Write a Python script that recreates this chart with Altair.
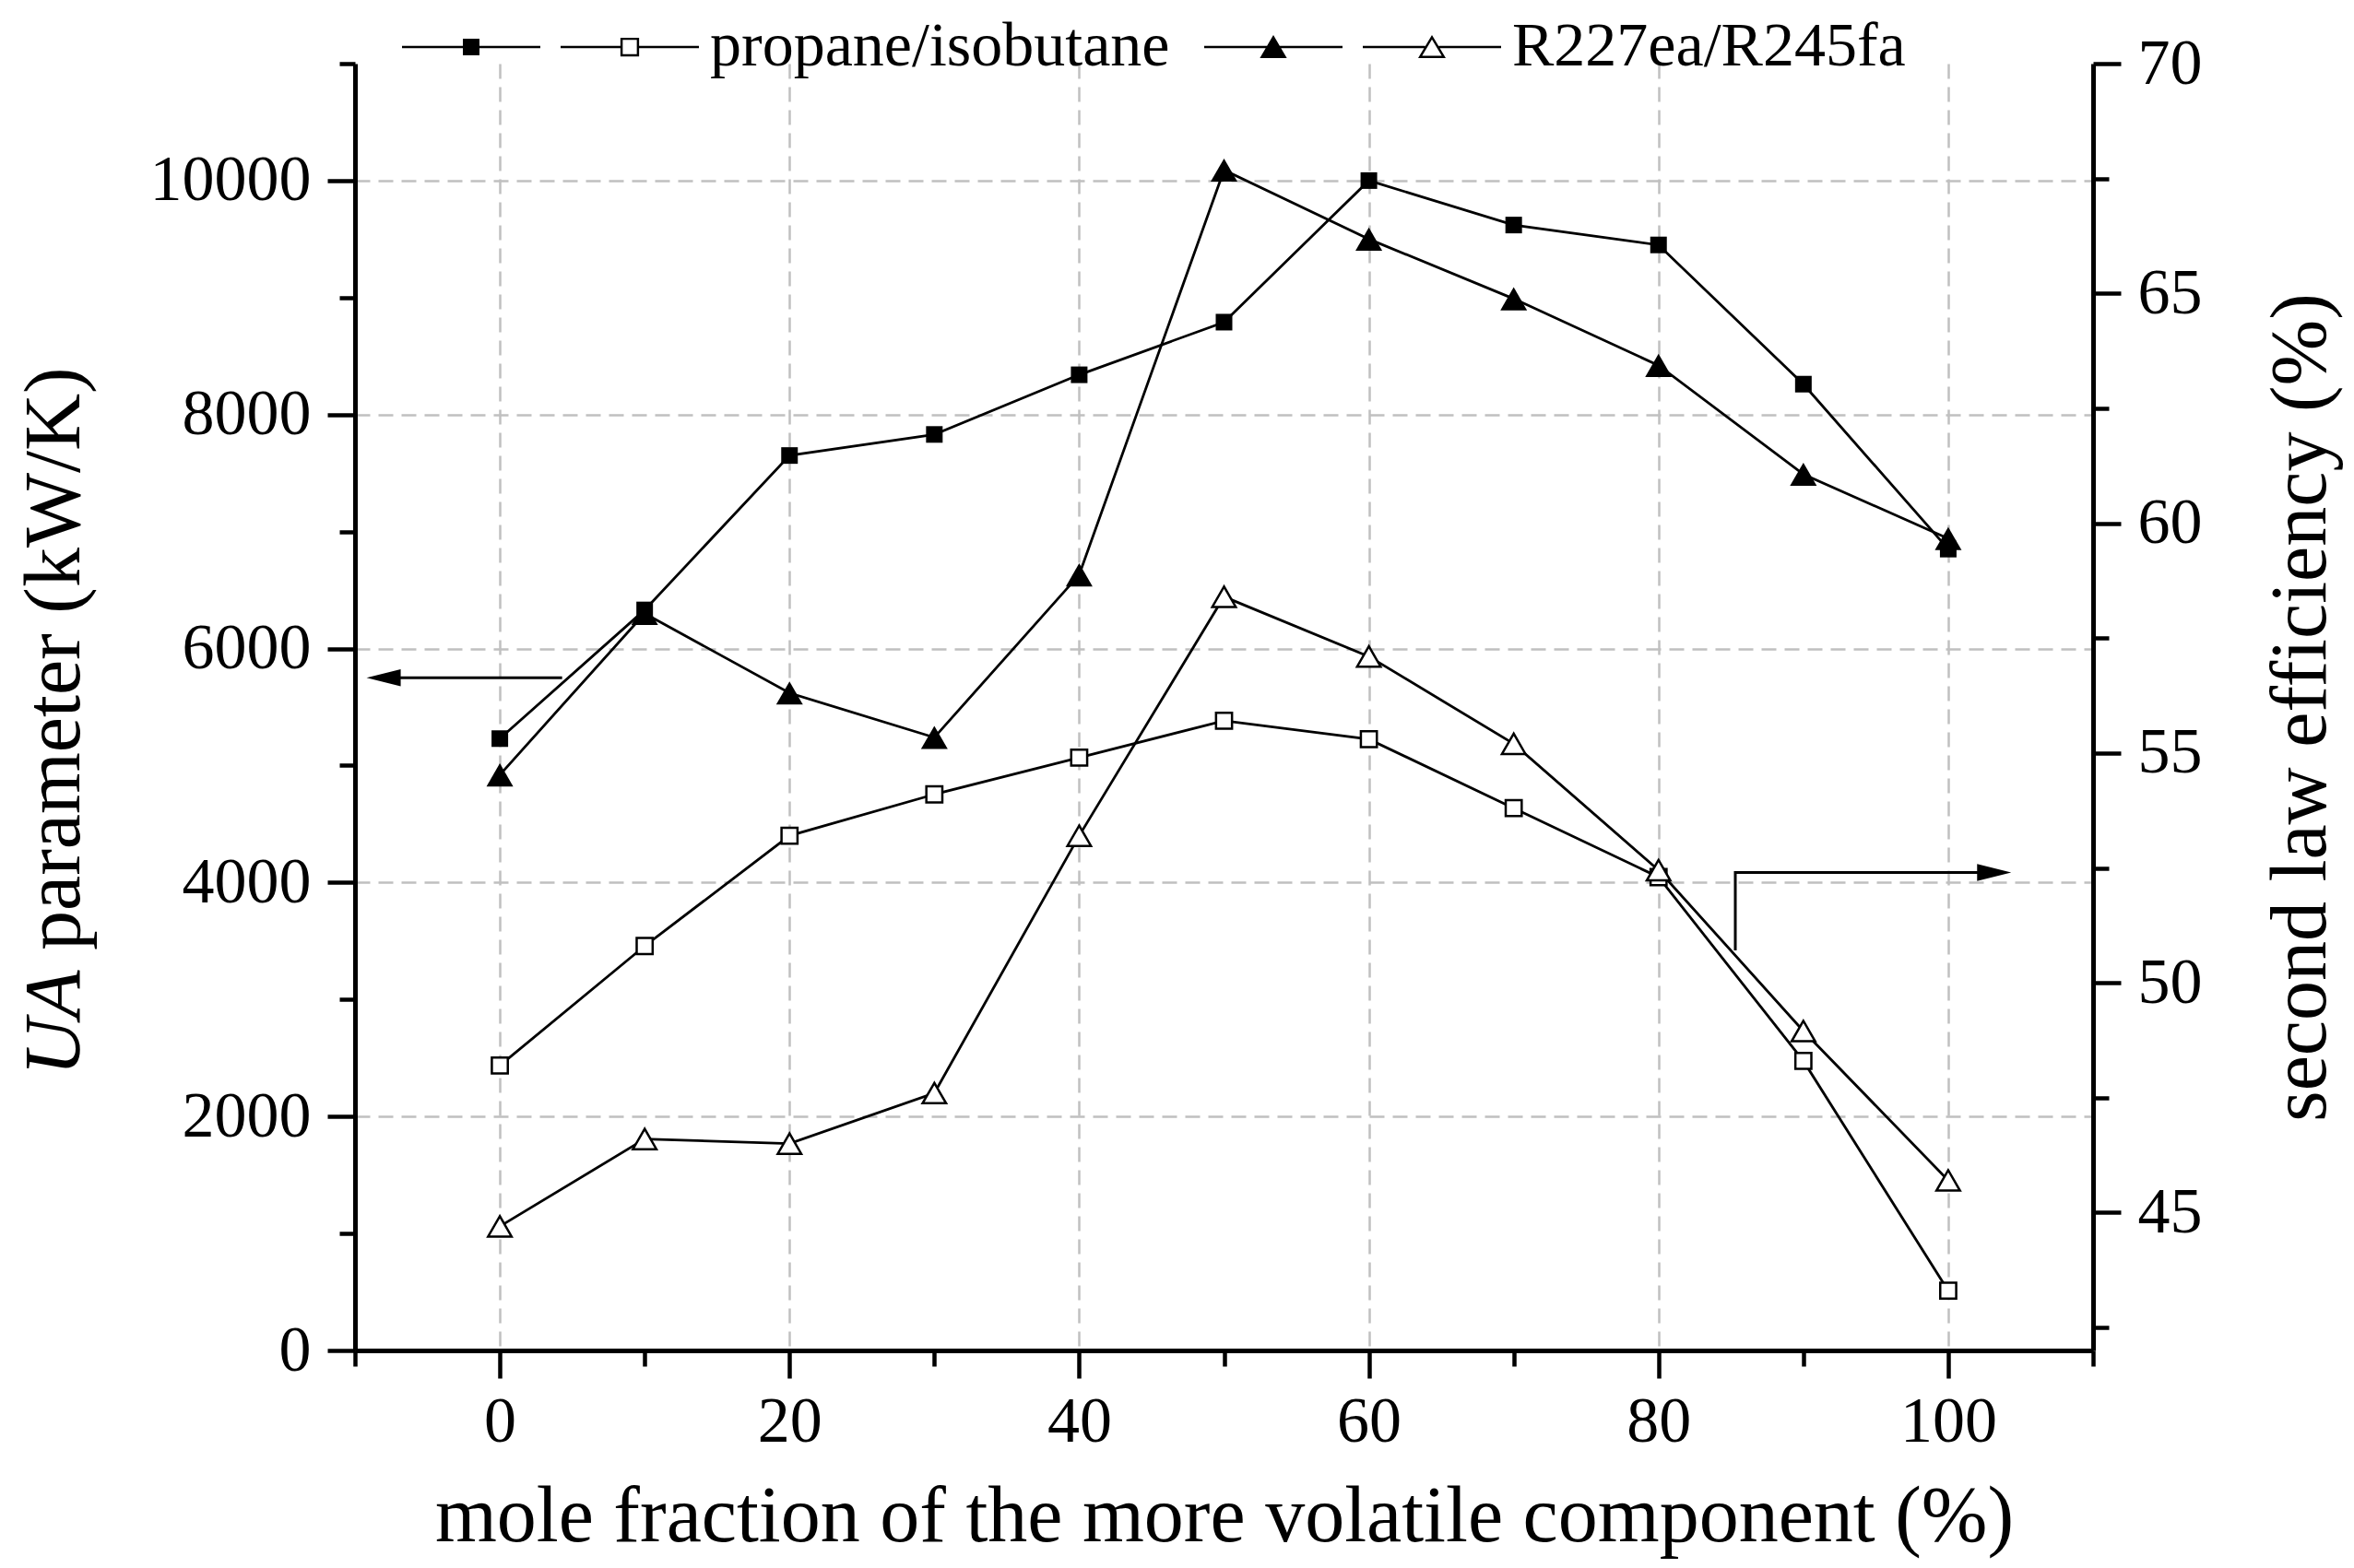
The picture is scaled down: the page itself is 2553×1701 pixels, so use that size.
import altair as alt
import pandas as pd

# ---------------- data ----------------
x_vals = [0, 10, 20, 30, 40, 50, 60, 70, 80, 90, 100]
propane_ua = [5230, 6330, 7650, 7830, 8340, 8790, 10000, 9620, 9450, 8260, 6850]
r227_ua = [4920, 6300, 5620, 5240, 6630, 10090, 9500, 8990, 8420, 7490, 6940]
propane_eff = [48.2, 50.8, 53.2, 54.1, 54.9, 55.7, 55.3, 53.8, 52.3, 48.3, 43.3]
r227_eff = [44.7, 46.6, 46.5, 47.6, 53.2, 58.4, 57.1, 55.2, 52.45, 48.95, 45.7]

series_names = ["propane/isobutane", "R227ea/R245fa"]
x_title = "mole fraction of the more volatile component (%)"
ua_title_parts = ["UA", "parameter (kW/K)"]
eff_title = "second law efficiency (%)"

x_major = [0, 20, 40, 60, 80, 100]
x_minor = [-10, 10, 30, 50, 70, 90, 110]
ua_major = [0, 2000, 4000, 6000, 8000, 10000]
ua_minor = [1000, 3000, 5000, 7000, 9000, 11000]
eff_major = [45, 50, 55, 60, 65, 70]
eff_minor = [42.5, 47.5, 52.5, 57.5, 62.5, 67.5]

# annotation arrows (in data units of x / UA axis)
left_arrow_x = [4.3, -7.0]
left_arrow_y = [5750, 5750]
right_arrow_x = [85.3, 85.3, 102.5]
right_arrow_y = [3420, 4086, 4086]
arrow_head_x = [-9.2, 104.35]
arrow_head_y = [5750, 4086]
arrow_head_dir = ["left", "right"]

legend_keys = ["propane/isobutane UA", "propane/isobutane", "R227ea/R245fa UA", "R227ea/R245fa"]

# ---------------- tables ----------------
rows = []
for name, ua, eff in [(series_names[0], propane_ua, propane_eff), (series_names[1], r227_ua, r227_eff)]:
    for xv, a, e in zip(x_vals, ua, eff):
        rows.append({"x": xv, "value": a, "series": name, "kind": "UA"})
        rows.append({"x": xv, "value": e, "series": name, "kind": "eff"})
df = pd.DataFrame(rows)

arrows = pd.DataFrame(
    [{"ax": a, "ay": b, "grp": "L", "ord": i} for i, (a, b) in enumerate(zip(left_arrow_x, left_arrow_y))]
    + [{"ax": a, "ay": b, "grp": "R", "ord": i} for i, (a, b) in enumerate(zip(right_arrow_x, right_arrow_y))]
)
heads = pd.DataFrame({"ax": arrow_head_x, "ay": arrow_head_y, "dir": arrow_head_dir})
legend_df = pd.DataFrame({"key": legend_keys})
title_df = pd.DataFrame({"t": ua_title_parts})

FONT = "Liberation Serif"
W, H = 1885, 1396

xs = alt.Scale(domain=[-10, 110], nice=False, zero=False)
ysl = alt.Scale(domain=[0, 11000], nice=False, zero=False)
ysr = alt.Scale(domain=[42, 70], nice=False, zero=False)

tick_common = dict(tickColor="black", tickWidth=4.5, labelFont=FONT, labelFontSize=70,
                   labelColor="black", labelFlush=False, labelOverlap=False)

ax_x_major = alt.Axis(values=x_major, orient="bottom", tickSize=30, domain=True, domainWidth=5,
                      domainColor="black", grid=True, gridColor="#c0c0c0", gridDash=[16, 9],
                      gridWidth=2.5, labelPadding=13, format="d",
                      title=x_title, titleFont=FONT, titleFontSize=86, titleFontWeight="normal",
                      titleColor="black", titleX=W / 2, titleY=206, titleAlign="center",
                      titleBaseline="alphabetic", **tick_common)
ax_x_minor = alt.Axis(values=x_minor, orient="bottom", tickSize=17, domain=False, grid=False,
                      labels=False, title=None, tickColor="black", tickWidth=4.5)
ax_l_major = alt.Axis(values=ua_major, orient="left", tickSize=30, domain=True, domainWidth=5,
                      domainColor="black", grid=True, gridColor="#c0c0c0", gridDash=[16, 9],
                      gridWidth=2.5, labelPadding=18, format="d", title=None, **tick_common)
ax_l_minor = alt.Axis(values=ua_minor, orient="left", tickSize=17, domain=False, grid=False,
                      labels=False, title=None, tickColor="black", tickWidth=4.5)
ax_r_major = alt.Axis(values=eff_major, orient="right", tickSize=30, domain=True, domainWidth=5,
                      domainColor="black", grid=False, labelPadding=18, format="d",
                      title=eff_title, titleFont=FONT, titleFontSize=86, titleFontWeight="normal",
                      titleColor="black", titleAngle=270, titleX=251, titleY=H / 2,
                      titleAlign="center", titleBaseline="alphabetic", **tick_common)
ax_r_minor = alt.Axis(values=eff_minor, orient="right", tickSize=17, domain=False, grid=False,
                      labels=False, title=None, tickColor="black", tickWidth=4.5)

ua = alt.Chart(df).transform_filter(alt.datum.kind == "UA")
eff = alt.Chart(df).transform_filter(alt.datum.kind == "eff")

ua_lines = ua.mark_line(color="black", strokeWidth=2.8).encode(
    x=alt.X("x:Q", scale=xs, axis=ax_x_major),
    y=alt.Y("value:Q", scale=ysl, axis=ax_l_major),
    detail="series:N",
)
ua_sq = ua.transform_filter(alt.datum.series == series_names[0]).mark_point(
    shape="square", filled=True, color="black", size=324, opacity=1
).encode(
    x=alt.X("x:Q", scale=xs, axis=ax_x_minor),
    y=alt.Y("value:Q", scale=ysl, axis=ax_l_minor),
)
ua_tri = ua.transform_filter(alt.datum.series == series_names[1]).mark_point(
    shape="triangle-up", filled=True, color="black", size=841, opacity=1
).encode(
    x=alt.X("x:Q", scale=xs, axis=None),
    y=alt.Y("value:Q", scale=ysl, axis=None),
)
arrow_lines = alt.Chart(arrows).mark_line(color="black", strokeWidth=3).encode(
    x=alt.X("ax:Q", scale=xs, axis=None),
    y=alt.Y("ay:Q", scale=ysl, axis=None),
    detail="grp:N",
    order="ord:Q",
)
head_l = alt.Chart(heads).transform_filter(alt.datum.dir == "left").mark_point(
    shape="M0,0L2,-0.5L2,0.5Z", filled=True, color="black", size=1369, opacity=1
).encode(x=alt.X("ax:Q", scale=xs, axis=None), y=alt.Y("ay:Q", scale=ysl, axis=None))
head_r = alt.Chart(heads).transform_filter(alt.datum.dir == "right").mark_point(
    shape="M0,0L-2,-0.5L-2,0.5Z", filled=True, color="black", size=1369, opacity=1
).encode(x=alt.X("ax:Q", scale=xs, axis=None), y=alt.Y("ay:Q", scale=ysl, axis=None))

title_ua = alt.Chart(title_df).transform_filter(alt.datum.t == ua_title_parts[0]).mark_text(
    angle=270, align="left", baseline="alphabetic", font=FONT, fontSize=86,
    fontStyle="italic", color="black"
).encode(text="t:N", x=alt.value(-299), y=alt.value(1098))
title_rest = alt.Chart(title_df).transform_filter(alt.datum.t == ua_title_parts[1]).mark_text(
    angle=270, align="left", baseline="alphabetic", font=FONT, fontSize=86, color="black"
).encode(text="t:N", x=alt.value(-299), y=alt.value(962))

# legend glyphs: line + marker drawn as filled outlines (hollow markers as rings);
# the unlabeled (filled-marker) entries are drawn shifted right so the pairs sit close together
legend_paths = [
    # line + filled square
    "M-0.8,-0.018H1.2V0.018H-0.8Z"
    "M0.08,-0.12H0.32V0.12H0.08Z",
    # line + hollow square
    "M-1,-0.018H-0.135V0.018H-1Z"
    "M0.135,-0.018H1V0.018H0.135Z"
    "M-0.135,-0.135H0.135V0.135H-0.135Z"
    "M-0.102,-0.102V0.102H0.102V-0.102Z",
    # line + filled triangle
    "M-0.8,-0.018H1.2V0.018H-0.8Z"
    "M0.2,-0.175L0.395,0.16L0.005,0.16Z",
    # line + hollow triangle
    "M-1,-0.018H-0.1V0.018H-1Z"
    "M0.1,-0.018H1V0.018H0.1Z"
    "M0,-0.175L0.2,0.16L-0.2,0.16Z"
    "M0,-0.111L-0.142,0.127L0.142,0.127Z",
]
leg = alt.Legend(orient="none", legendX=36, legendY=-93, direction="horizontal", columns=4,
                 title=None, labelExpr="indexof(datum.label, ' UA') >= 0 ? '' : datum.label",
                 labelFont=FONT, labelFontSize=68, labelColor="black", labelLimit=2000,
                 labelOffset=12, columnPadding=22, symbolSize=22500, symbolStrokeWidth=0,
                 symbolFillColor="black", padding=0)
legend_layer = alt.Chart(legend_df).transform_filter("false").mark_point(
    filled=True, color="black", size=22500, opacity=1
).encode(
    shape=alt.Shape("key:N", scale=alt.Scale(domain=legend_keys, range=legend_paths), legend=leg),
)

left_group = alt.layer(
    ua_lines, arrow_lines, head_l, head_r, ua_sq, ua_tri, title_ua, title_rest, legend_layer
).resolve_axis(x="independent", y="independent")

eff_lines = eff.mark_line(color="black", strokeWidth=2.8).encode(
    x=alt.X("x:Q", scale=xs, axis=None),
    y=alt.Y("value:Q", scale=ysr, axis=ax_r_major),
    detail="series:N",
)
eff_sq = eff.transform_filter(alt.datum.series == series_names[0]).mark_point(
    shape="square", filled=True, fill="white", stroke="black", strokeWidth=2.5, size=300, opacity=1
).encode(
    x=alt.X("x:Q", scale=xs, axis=None),
    y=alt.Y("value:Q", scale=ysr, axis=ax_r_minor),
)
eff_tri = eff.transform_filter(alt.datum.series == series_names[1]).mark_point(
    shape="triangle-up", filled=True, fill="white", stroke="black", strokeWidth=2.5, size=650, opacity=1
).encode(
    x=alt.X("x:Q", scale=xs, axis=None),
    y=alt.Y("value:Q", scale=ysr, axis=None),
)
right_group = alt.layer(eff_lines, eff_sq, eff_tri).resolve_axis(y="independent")

chart = alt.layer(left_group, right_group).resolve_scale(y="independent").resolve_axis(
    x="independent", y="independent"
).properties(
    width=W, height=H,
    padding={"left": 377, "top": 61, "right": 272, "bottom": 226},
    autosize=alt.AutoSizeParams(type="none"),
    background="white",
).configure_view(stroke=None)

chart.save("out.html", embed_options={"renderer": "svg", "actions": False})
